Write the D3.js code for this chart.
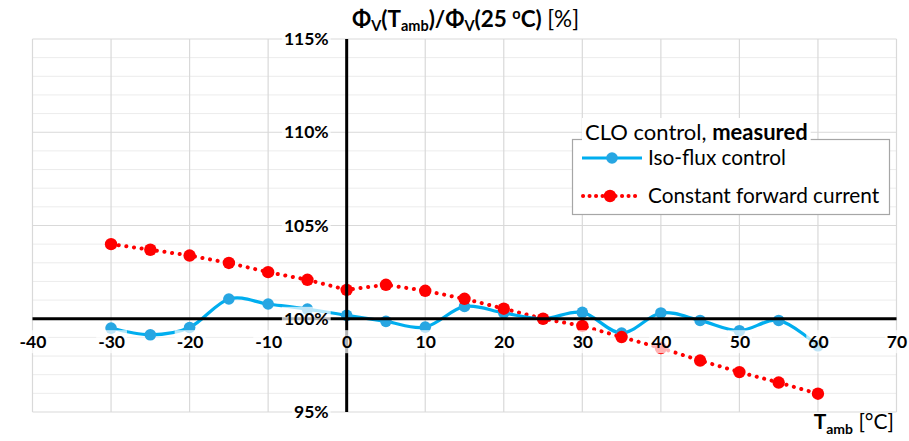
<!DOCTYPE html>
<html>
<head>
<meta charset="utf-8">
<script src="https://cdn.jsdelivr.net/npm/d3@7/dist/d3.min.js"></script>
<style>
  html, body { margin: 0; padding: 0; background: #fff; }
  svg { display: block; font-family: Lato, "Open Sans", sans-serif; }
</style>
</head>
<body>
<svg id="chart" width="909" height="441"></svg>
<script>
// Ambient temperature [°C]
const temps = [-30, -25, -20, -15, -10, -5, 0, 5, 10, 15, 20, 25, 30, 35, 40, 45, 50, 55, 60];
// Relative luminous flux [%], iso-flux control
const isoFlux = [99.50, 99.14, 99.53, 101.06, 100.79, 100.52, 100.18, 99.86, 99.55, 100.66, 100.31, 100.00, 100.34, 99.23, 100.31, 99.91, 99.36, 99.91, 98.55];
// Relative luminous flux [%], constant forward current
const constCurrent = [104.00, 103.70, 103.39, 102.99, 102.50, 102.09, 101.55, 101.82, 101.50, 101.07, 100.54, 100.00, 99.62, 99.02, 98.43, 97.76, 97.14, 96.58, 95.98];
const xTicks = [-40, -30, -20, -10, 0, 10, 20, 30, 40, 50, 60, 70];
const yTicks = [95, 100, 105, 110, 115];
const seriesNames = ["Iso-flux control", "Constant forward current"];

const svg = d3.select("#chart");
const x = d3.scaleLinear().domain([-40, 70]).range([32.5, 896.5]);
const y = d3.scaleLinear().domain([95, 115]).range([412, 39]);

const blueLine = "#00AEEF", blueMark = "#27A6E2", red = "#FF0000";
const FONT = "Lato, sans-serif";

// Grid: minor every 1 %, major every 5 %, verticals every 10 °C
const grid = svg.append("g");
grid.selectAll("line.minor").data(d3.range(95, 116, 1).filter(v => v % 5 !== 0)).join("line")
  .attr("x1", x(-40)).attr("x2", x(70)).attr("y1", d => y(d)).attr("y2", d => y(d))
  .attr("stroke", "#ececec").attr("stroke-width", 1);
grid.selectAll("line.major").data(yTicks).join("line")
  .attr("x1", x(-40)).attr("x2", x(70)).attr("y1", d => y(d)).attr("y2", d => y(d))
  .attr("stroke", "#d9d9d9").attr("stroke-width", 1);
grid.selectAll("line.vert").data(xTicks).join("line")
  .attr("x1", d => x(d)).attr("x2", d => x(d)).attr("y1", y(115)).attr("y2", y(95))
  .attr("stroke", "#d9d9d9").attr("stroke-width", 1.2);

// Series
const blueData = temps.map((t, i) => [t, isoFlux[i]]);
const redData = temps.map((t, i) => [t, constCurrent[i]]);

svg.append("path").datum(redData)
  .attr("d", d3.line().x(d => x(d[0])).y(d => y(d[1])))
  .attr("fill", "none").attr("stroke", red).attr("stroke-width", 4)
  .attr("stroke-linecap", "round").attr("stroke-dasharray", "0.1 7.6");

svg.append("path").datum(blueData)
  .attr("d", d3.line().curve(d3.curveCardinal.tension(0)).x(d => x(d[0])).y(d => y(d[1])))
  .attr("fill", "none").attr("stroke", blueLine).attr("stroke-width", 3.2);

svg.append("g").selectAll("circle").data(blueData).join("circle")
  .attr("cx", d => x(d[0])).attr("cy", d => y(d[1])).attr("r", 5.8).attr("fill", blueMark);
svg.append("g").selectAll("circle").data(redData).join("circle")
  .attr("cx", d => x(d[0])).attr("cy", d => y(d[1])).attr("r", 6.2).attr("fill", red);

// Axis lines through the origin
svg.append("line").attr("x1", x(-40)).attr("x2", x(70)).attr("y1", y(100)).attr("y2", y(100))
  .attr("stroke", "#000").attr("stroke-width", 3);
svg.append("line").attr("x1", x(0)).attr("x2", x(0)).attr("y1", y(115)).attr("y2", y(95))
  .attr("stroke", "#000").attr("stroke-width", 3);

// Tick labels
const xAxis = svg.append("g").attr("transform", `translate(0,${y(100)})`)
  .call(d3.axisBottom(x).tickValues(xTicks).tickSize(0).tickPadding(17).tickFormat(d => String(d)));
const yAxis = svg.append("g").attr("transform", `translate(${x(0)},0)`)
  .call(d3.axisLeft(y).tickValues(yTicks).tickSize(0).tickPadding(18).tickFormat(d => d + "%"));
[xAxis, yAxis].forEach(a => {
  a.select(".domain").remove();
  a.selectAll("text").attr("font-family", FONT).attr("font-size", 17.5)
    .attr("font-weight", "bold").attr("fill", "#000");
  // semi-transparent label backgrounds
  a.selectAll(".tick").each(function () {
    const b = d3.select(this).select("text").node().getBBox();
    d3.select(this).insert("rect", "text")
      .attr("x", b.x - 2).attr("y", b.y - 1).attr("width", b.width + 4).attr("height", b.height + 2)
      .attr("fill", "#fff").attr("fill-opacity", 0.7);
  });
});

// Title
const title = svg.append("text").attr("x", 352).attr("y", 27)
  .attr("font-family", FONT).attr("font-size", 22.5).attr("font-weight", "bold").attr("fill", "#000");
title.append("tspan").text("Φ");
title.append("tspan").attr("font-size", 14.5).attr("dy", 4).text("V");
title.append("tspan").attr("dy", -4).text("(T");
title.append("tspan").attr("font-size", 14.5).attr("dy", 4).text("amb");
title.append("tspan").attr("dy", -4).text(")/Φ");
title.append("tspan").attr("font-size", 14.5).attr("dy", 4).text("V");
title.append("tspan").attr("dy", -4).text("(25 ");
title.append("tspan").attr("font-size", 14.5).attr("dy", -8).text("o");
title.append("tspan").attr("dy", 8).text("C) ");
title.append("tspan").attr("font-weight", "normal").text("[%]");

// X axis title
const xt = svg.append("text").attr("x", 894).attr("y", 429).attr("text-anchor", "end")
  .attr("font-family", FONT).attr("font-size", 21).attr("fill", "#000");
xt.append("tspan").attr("font-weight", "bold").text("T");
xt.append("tspan").attr("font-weight", "bold").attr("font-size", 14).attr("dy", 5).text("amb");
xt.append("tspan").attr("dy", -5).text(" [°C]");

// Legend
const lg = svg.append("g");
lg.append("rect").attr("x", 572.5).attr("y", 139.5).attr("width", 317).attr("height", 75)
  .attr("fill", "#fff").attr("stroke", "#a6a6a6").attr("stroke-width", 1.2);
const lt = lg.append("text").attr("x", 585).attr("y", 140)
  .attr("font-family", FONT).attr("font-size", 22).attr("fill", "#000");
lt.append("tspan").text("CLO control, ");
lt.append("tspan").attr("font-weight", "bold").text("measured");
const ltb = lt.node().getBBox();
lg.insert("rect", "text").attr("x", ltb.x - 3).attr("y", ltb.y).attr("width", ltb.width + 6).attr("height", ltb.height - 3)
  .attr("fill", "#fff");

lg.append("line").attr("x1", 582).attr("x2", 642).attr("y1", 158).attr("y2", 158)
  .attr("stroke", blueLine).attr("stroke-width", 3.2);
lg.append("circle").attr("cx", 612).attr("cy", 158).attr("r", 5.8).attr("fill", blueMark);
lg.append("line").attr("x1", 583).attr("x2", 638).attr("y1", 196).attr("y2", 196)
  .attr("stroke", red).attr("stroke-width", 4).attr("stroke-linecap", "round").attr("stroke-dasharray", "0.1 6.4");
lg.append("circle").attr("cx", 610).attr("cy", 196).attr("r", 6.2).attr("fill", red);
lg.selectAll("text.item").data(seriesNames).join("text").attr("class", "item")
  .attr("x", 648).attr("y", (d, i) => 158 + i * 38).attr("dy", "0.35em")
  .attr("font-family", FONT).attr("font-size", 20.8).attr("fill", "#000").text(d => d);
</script>
</body>
</html>
